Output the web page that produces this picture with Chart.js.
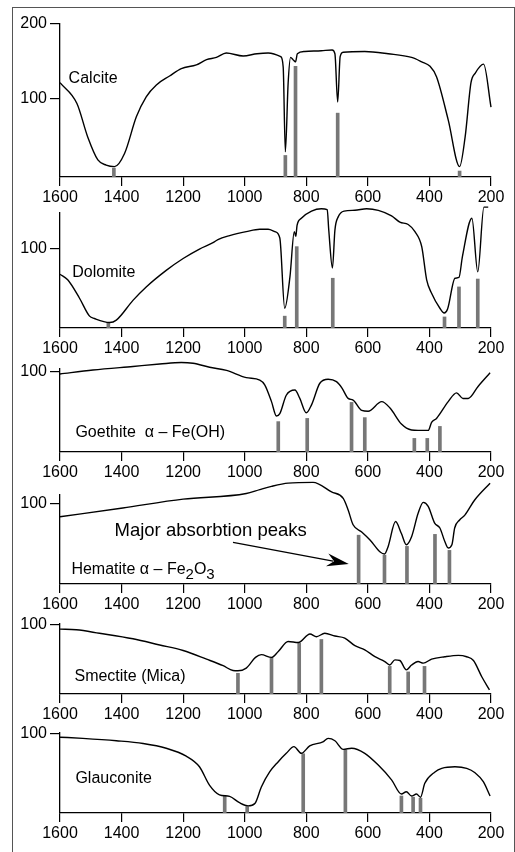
<!DOCTYPE html>
<html><head><meta charset="utf-8">
<script src="https://cdn.jsdelivr.net/npm/chart.js@4.4.0/dist/chart.umd.min.js"></script>
<style>
html,body{margin:0;padding:0;background:#fff;}
#wrap{position:relative;width:515px;height:852px;overflow:hidden;background:#fff;}
#frame{position:absolute;left:12px;top:7px;width:503px;height:860px;border:1px solid #555;box-sizing:border-box;}
canvas{position:absolute;left:0;top:0;}
</style></head>
<body><div id="wrap"><div id="frame"></div>
<canvas id="c0" width="515" height="852"></canvas>
<canvas id="c1" width="515" height="852"></canvas>
<canvas id="c2" width="515" height="852"></canvas>
<canvas id="c3" width="515" height="852"></canvas>
<canvas id="c4" width="515" height="852"></canvas>
<canvas id="c5" width="515" height="852"></canvas>
</div>
<script>
// ---- Data (wavenumber cm-1, relative transmission) ----
const xTicks = [1600, 1400, 1200, 1000, 800, 600, 400, 200];

const calciteX = [1600,1545,1510,1477,1450,1423,1390,1352,1320,1287,1244,1206,1157,1124,1092,1060,1005,960,924,883,875,868,859,851,843,835,829,805,751,716,707,698,690,680,610,534,458,425,398,377,339,302,284,265,251,224,200];
const calciteY = [121,93,48,17,10,8,26,75,102,118,130,140,145,152,155,161,157,160,161,156,142,28,120,155,152,149,160,163,164,165,160,95,156,162,163,160,155,149,143,129,71,8,48,121,134,146,88];
const calcitePeakX = [1425,868,835,698,302];
const calcitePeakTop = [6,23,143,80,2];

const dolomiteX = [1600,1575,1537,1504,1488,1439,1417,1363,1320,1255,1200,1147,1103,1087,1049,995,951,924,902,886,870,853,839,834,830,816,783,751,732,727,715,707,696,677,642,604,566,523,496,469,447,425,409,393,366,352,341,317,304,293,262,243,223,209];
const dolomiteY = [68,61,38,15,12,7,10,35,52,73,88,100,108,112,117,122,125,125,122,114,25,65,122,116,130,139,148,151,150,124,76,124,141,148,149,151,149,142,134,131,122,103,61,44,25,19,24,63,64,90,139,71,153,153];
const dolomitePeakX = [1443,870,831,714,351,304,243];
const dolomitePeakTop = [7,15,103,63,14,52,62];

const goethiteX = [1600,1493,1363,1276,1206,1168,1114,1059,995,951,935,913,897,886,865,837,821,800,783,756,729,702,684,664,648,620,599,555,528,491,458,437,404,393,377,339,312,291,274,242,203];
const goethiteY = [97.5,102.5,107,110,112,111,106,102,93,90,84,63,45,48,71,77.5,67,49,59,86,91,88,80,67,65,52,51,63,55,35,27.5,27,27,37,42,63,74,67,67,82,99];
const goethitePeakX = [891,797,653,610,449,407,366];
const goethitePeakTop = [38,42,62,43,17,17,32];

const hematiteX = [1600,1396,1200,995,951,913,859,778,718,680,664,648,620,593,560,546,534,510,491,475,458,437,420,404,383,366,350,339,327,318,302,285,253,203];
const hematiteY = [84,95,106,113,118,122,126,127,115,107,92.5,74,65,55,40,37.5,47,78,63,49,59,88,102,97,76,70,53,45,49,70,80,86,105,126];
const hematitePeakX = [630,546,473,382,335];
const hematitePeakTop = [61,36,47,62,42];

const smectiteX = [1600,1547,1472,1363,1276,1200,1124,1070,1038,1022,995,965,946,913,891,859,826,788,767,740,707,675,642,610,577,545,529,512,496,475,458,437,420,393,350,306,279,257,230,205];
const smectiteY = [94,93,88,80,71,63,50.5,41,34,33.6,37.5,53,57,53,61.5,76,74.5,87,83,88,84,81,70,64,54,47,42,49.5,48.5,35,42,47,44.7,50.5,54,56,54,48.5,25,6];
const smectitePeakX = [1022,913,823,751,529,469,416];
const smectitePeakTop = [30,52,73.5,79,40,32,40];

const glauconiteX = [1600,1526,1417,1330,1255,1190,1147,1114,1082,1049,1017,989,967,946,919,891,865,840,816,789,746,729,707,680,653,610,567,523,491,475,458,442,429,415,382,360,317,279,252,225,203];
const glauconiteY = [96,94.5,91.5,88,82,72,58.6,35,23,21,13,9,12,33,52,65,75.6,84,75.6,85,90,94.5,91.5,80.6,82,75.6,61,42,24,27,21.5,24,20,37.6,52,56.6,58.6,56.6,51,39.6,21.5];
const glauconitePeakX = [1065,992,810,673,491,453,429];
const glauconitePeakTop = [21.5,8,75,80,21.5,20,18.6];

const panelNames = ['Calcite','Dolomite','Goethite  α – Fe(OH)','Hematite α – Fe|2|O|3','Smectite (Mica)','Glauconite'];
const arrowLabel = 'Major absorbtion peaks';

// ---- Layout (pixels) ----
const FONT = '"Liberation Sans", Arial, Helvetica, sans-serif';
const panels = [
  {x:calciteX,y:calciteY,px:calcitePeakX,pt:calcitePeakTop,min:-6,max:200,ticks:[100,200],top:24,base:177,name:panelNames[0],lx:1572,ly:126},
  {x:dolomiteX,y:dolomiteY,px:dolomitePeakX,pt:dolomitePeakTop,min:0,max:145.6,ticks:[100],top:213,base:328,name:panelNames[1],lx:1560,ly:70},
  {x:goethiteX,y:goethiteY,px:goethitePeakX,pt:goethitePeakTop,min:0,max:103.8,ticks:[100],top:369,base:452,name:panelNames[2],lx:1550,ly:24},
  {x:hematiteX,y:hematiteY,px:hematitePeakX,pt:hematitePeakTop,min:0,max:111.2,ticks:[100],top:495,base:584,name:panelNames[3],lx:1563,ly:17.5,
   arrow:{text:arrowLabel,tx:1423,ty:66,x1:1038,y1:52,x2:662,y2:25}},
  {x:smectiteX,y:smectiteY,px:smectitePeakX,pt:smectitePeakTop,min:0,max:101.4,ticks:[100],top:624,base:694,name:panelNames[4],lx:1553,ly:25},
  {x:glauconiteX,y:glauconiteY,px:glauconitePeakX,pt:glauconitePeakTop,min:0,max:101.3,ticks:[100],top:733,base:813,name:panelNames[5],lx:1550,ly:44}
];

const annotPlugin = {
  id: 'annot',
  afterDatasetsDraw(chart, args, opts) {
    const ctx = chart.ctx, xs = chart.scales.x, ys = chart.scales.y;
    ctx.save();
    ctx.fillStyle = '#000';
    ctx.textBaseline = 'middle';
    ctx.textAlign = 'left';
    let x = xs.getPixelForValue(opts.lx), y = ys.getPixelForValue(opts.ly);
    const parts = opts.name.split('|');
    parts.forEach((t, i) => {
      const sub = i % 2 === 1;
      ctx.font = (sub ? '15px ' : '16px ') + FONT;
      ctx.fillText(t, x, y + (sub ? 5 : 0));
      x += ctx.measureText(t).width;
    });
    if (opts.arrow) {
      const a = opts.arrow;
      ctx.font = '18.5px ' + FONT;
      ctx.fillText(a.text, xs.getPixelForValue(a.tx), ys.getPixelForValue(a.ty));
      const x1 = xs.getPixelForValue(a.x1), y1 = ys.getPixelForValue(a.y1);
      const x2 = xs.getPixelForValue(a.x2), y2 = ys.getPixelForValue(a.y2);
      const ang = Math.atan2(y2 - y1, x2 - x1);
      const L = 22, W = 6.5;
      const bx = x2 - L * Math.cos(ang), by = y2 - L * Math.sin(ang);
      ctx.strokeStyle = '#000'; ctx.lineWidth = 1.3;
      ctx.beginPath(); ctx.moveTo(x1, y1); ctx.lineTo(bx + 6*Math.cos(ang), by + 6*Math.sin(ang)); ctx.stroke();
      ctx.beginPath();
      ctx.moveTo(x2, y2);
      ctx.lineTo(bx - W * Math.sin(ang), by + W * Math.cos(ang));
      ctx.lineTo(bx + 7 * Math.cos(ang), by + 7 * Math.sin(ang));
      ctx.lineTo(bx + W * Math.sin(ang), by - W * Math.cos(ang));
      ctx.closePath(); ctx.fill();
    }
    ctx.restore();
  }
};

panels.forEach((p, i) => {
  new Chart(document.getElementById('c' + i), {
    type: 'line',
    data: { datasets: [
      { type: 'line', data: p.x.map((v, k) => ({x: v, y: p.y[k]})), borderColor: '#000', borderWidth: 1.4,
        pointRadius: 0, cubicInterpolationMode: 'monotone', clip: false, order: 1 },
      { type: 'bar', data: p.px.map((v, k) => ({x: v, y: [p.min, p.pt[k]]})), backgroundColor: '#777',
        barThickness: 3, grouped: false, order: 2 }
    ]},
    options: {
      responsive: false, animation: false, events: [],
      layout: { padding: { left: 0, right: 24, top: p.top, bottom: 852 - p.base - 30 } },
      plugins: { legend: {display: false}, tooltip: {enabled: false},
        annot: { name: p.name, lx: p.lx, ly: p.ly, arrow: p.arrow } },
      scales: {
        x: { type: 'linear', reverse: true, min: 200, max: 1600, offset: false,
          afterBuildTicks(s) { s.ticks = xTicks.map(v => ({value: v})); },
          ticks: { font: {family: FONT, size: 16}, color: '#000', padding: 2, maxRotation: 0, autoSkip: false,
            callback: v => String(v) },
          grid: { offset: false, drawOnChartArea: false, tickLength: 9, color: '#000', lineWidth: 1.2 },
          border: { color: '#000', width: 1.3 },
          afterFit(s) { s.height = 30; } },
        y: { type: 'linear', min: p.min, max: p.max,
          afterBuildTicks(s) { s.ticks = p.ticks.map(v => ({value: v})); },
          ticks: { font: {family: FONT, size: 16}, color: '#000', padding: 3, callback: v => String(v) },
          grid: { drawOnChartArea: false, tickLength: 10, color: '#000', lineWidth: 1.2 },
          border: { color: '#000', width: 1.3 },
          afterFit(s) { s.width = 60; } }
      }
    },
    plugins: [annotPlugin]
  });
});
</script>
</body></html>
